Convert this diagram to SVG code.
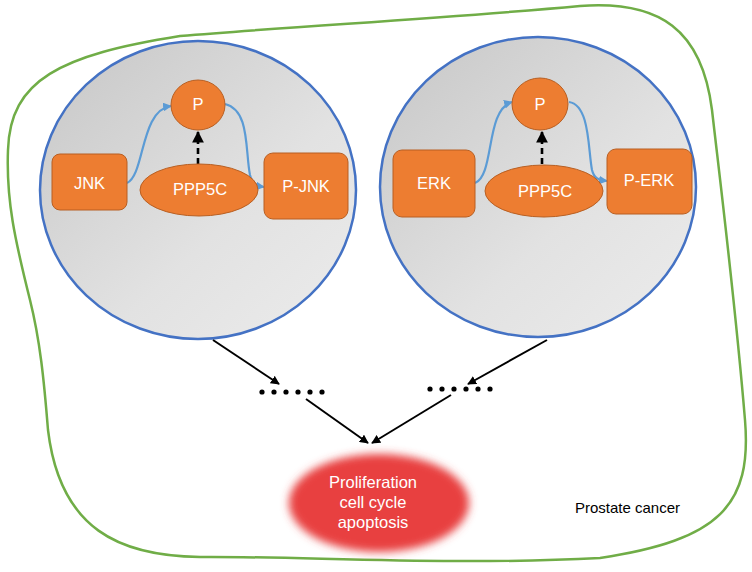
<svg xmlns="http://www.w3.org/2000/svg" width="752" height="572" viewBox="0 0 752 572">
<defs>
<linearGradient id="cellg" x1="0" y1="0" x2="1" y2="1">
<stop offset="0" stop-color="#c6c6c6"/>
<stop offset="0.6" stop-color="#e2e2e2"/>
<stop offset="1" stop-color="#ececec"/>
</linearGradient>
<filter id="blur" x="-20%" y="-20%" width="140%" height="140%">
<feGaussianBlur stdDeviation="4"/>
</filter>
<marker id="ab" viewBox="0 0 10 10" refX="9" refY="5" markerWidth="4" markerHeight="4" orient="auto" markerUnits="strokeWidth">
<path d="M0,0 L10,5 L0,10 z" fill="#5b9bd5"/>
</marker>
<marker id="ak" viewBox="0 0 10 10" refX="9" refY="5" markerWidth="4.5" markerHeight="4.5" orient="auto" markerUnits="strokeWidth">
<path d="M0,0 L10,5 L0,10 z" fill="#000"/>
</marker>
</defs>
<style>
.cell{fill:url(#cellg);stroke:#4472c4;stroke-width:2.5}
.node{fill:#ed7d31;stroke:#b85f22;stroke-width:1}
.wt{font-family:"Liberation Sans",Arial,sans-serif;font-size:16.5px;fill:#fff;text-anchor:middle}
.blue{fill:none;stroke:#5b9bd5;stroke-width:2.2;marker-end:url(#ab)}
.dash{fill:none;stroke:#000;stroke-width:2.6;stroke-dasharray:6,4;marker-end:url(#ak)}
.blk{fill:none;stroke:#000;stroke-width:2;marker-end:url(#ak)}
.dot{fill:#000}
</style>
<rect width="752" height="572" fill="#fff"/>
<g id="prostate">
<path d="M 8,150 C 10,80 60,55 180,36 C 300,26 450,18 580,6 C 660,0 702,30 712,110 C 720,180 735,300 745,420 C 752,505 720,540 600,558 C 450,566 300,556 200,557 C 120,556 60,530 48,430 C 44,380 40,340 30,300 C 15,240 6,200 8,150 Z" fill="none" stroke="#70ad47" stroke-width="2.5"/>
<text x="575" y="513" font-family="Liberation Sans,Arial,sans-serif" font-size="15" fill="#000">Prostate cancer</text>
</g>
<g id="cell-left">
<ellipse class="cell" cx="198" cy="190" rx="158" ry="149"/>
</g>
<g id="cell-right">
<ellipse class="cell" cx="538" cy="187" rx="158" ry="150"/>
</g>
<g id="connectors">
<path class="blue" d="M127,183 C145,175 140,110 171,106"/>
<path class="blue" d="M225,104 C250,110 245,150 250,175 C252,183 256,186 264,187"/>
<path class="dash" d="M198,164 L198,132"/>
<path class="blue" d="M475,183 C495,175 485,110 512,102"/>
<path class="blue" d="M569,102 C590,105 588,150 592,170 C594,178 598,180 607,181"/>
<path class="dash" d="M542,164 L542,132"/>
<path class="blk" d="M213,340 L279,384"/>
<path class="blk" d="M547,340 L468,384"/>
<path class="blk" d="M306,399 L368,443"/>
<path class="blk" d="M451,395 L372,443"/>
</g>
<g id="dots-left">
<circle class="dot" cx="262" cy="392" r="2.6"/><circle class="dot" cx="274" cy="392" r="2.6"/><circle class="dot" cx="286" cy="392" r="2.6"/><circle class="dot" cx="298" cy="392" r="2.6"/><circle class="dot" cx="310" cy="392" r="2.6"/><circle class="dot" cx="322" cy="392" r="2.6"/>
</g>
<g id="dots-right">
<circle class="dot" cx="430" cy="389" r="2.6"/><circle class="dot" cx="442" cy="389" r="2.6"/><circle class="dot" cx="454" cy="389" r="2.6"/><circle class="dot" cx="466" cy="389" r="2.6"/><circle class="dot" cx="478" cy="389" r="2.6"/><circle class="dot" cx="490" cy="389" r="2.6"/>
</g>
<g id="p-left"><ellipse class="node" cx="198" cy="105" rx="27" ry="25"/><text class="wt" x="198" y="110">P</text></g>
<g id="jnk"><rect class="node" x="52" y="154" width="75" height="56" rx="8"/><text class="wt" x="89.5" y="189">JNK</text></g>
<g id="ppp5c-left"><ellipse class="node" cx="199" cy="190" rx="59" ry="26"/><text class="wt" x="200" y="195">PPP5C</text></g>
<g id="p-jnk"><rect class="node" x="264" y="153" width="84" height="66" rx="9"/><text class="wt" x="306" y="192">P-JNK</text></g>
<g id="p-right"><ellipse class="node" cx="540" cy="104" rx="28" ry="26"/><text class="wt" x="540" y="110">P</text></g>
<g id="erk"><rect class="node" x="393" y="150" width="82" height="67" rx="9"/><text class="wt" x="434" y="189">ERK</text></g>
<g id="ppp5c-right"><ellipse class="node" cx="544" cy="191" rx="59" ry="26"/><text class="wt" x="545" y="197">PPP5C</text></g>
<g id="p-erk"><rect class="node" x="607" y="149" width="85" height="65" rx="9"/><text class="wt" x="649" y="186">P-ERK</text></g>
<g id="outcome">
<ellipse cx="379" cy="503" rx="90" ry="49" fill="#e8403f" filter="url(#blur)"/>
<text class="wt" x="373" y="488">Proliferation</text>
<text class="wt" x="373" y="508">cell cycle</text>
<text class="wt" x="373" y="528">apoptosis</text>
</g>
</svg>
